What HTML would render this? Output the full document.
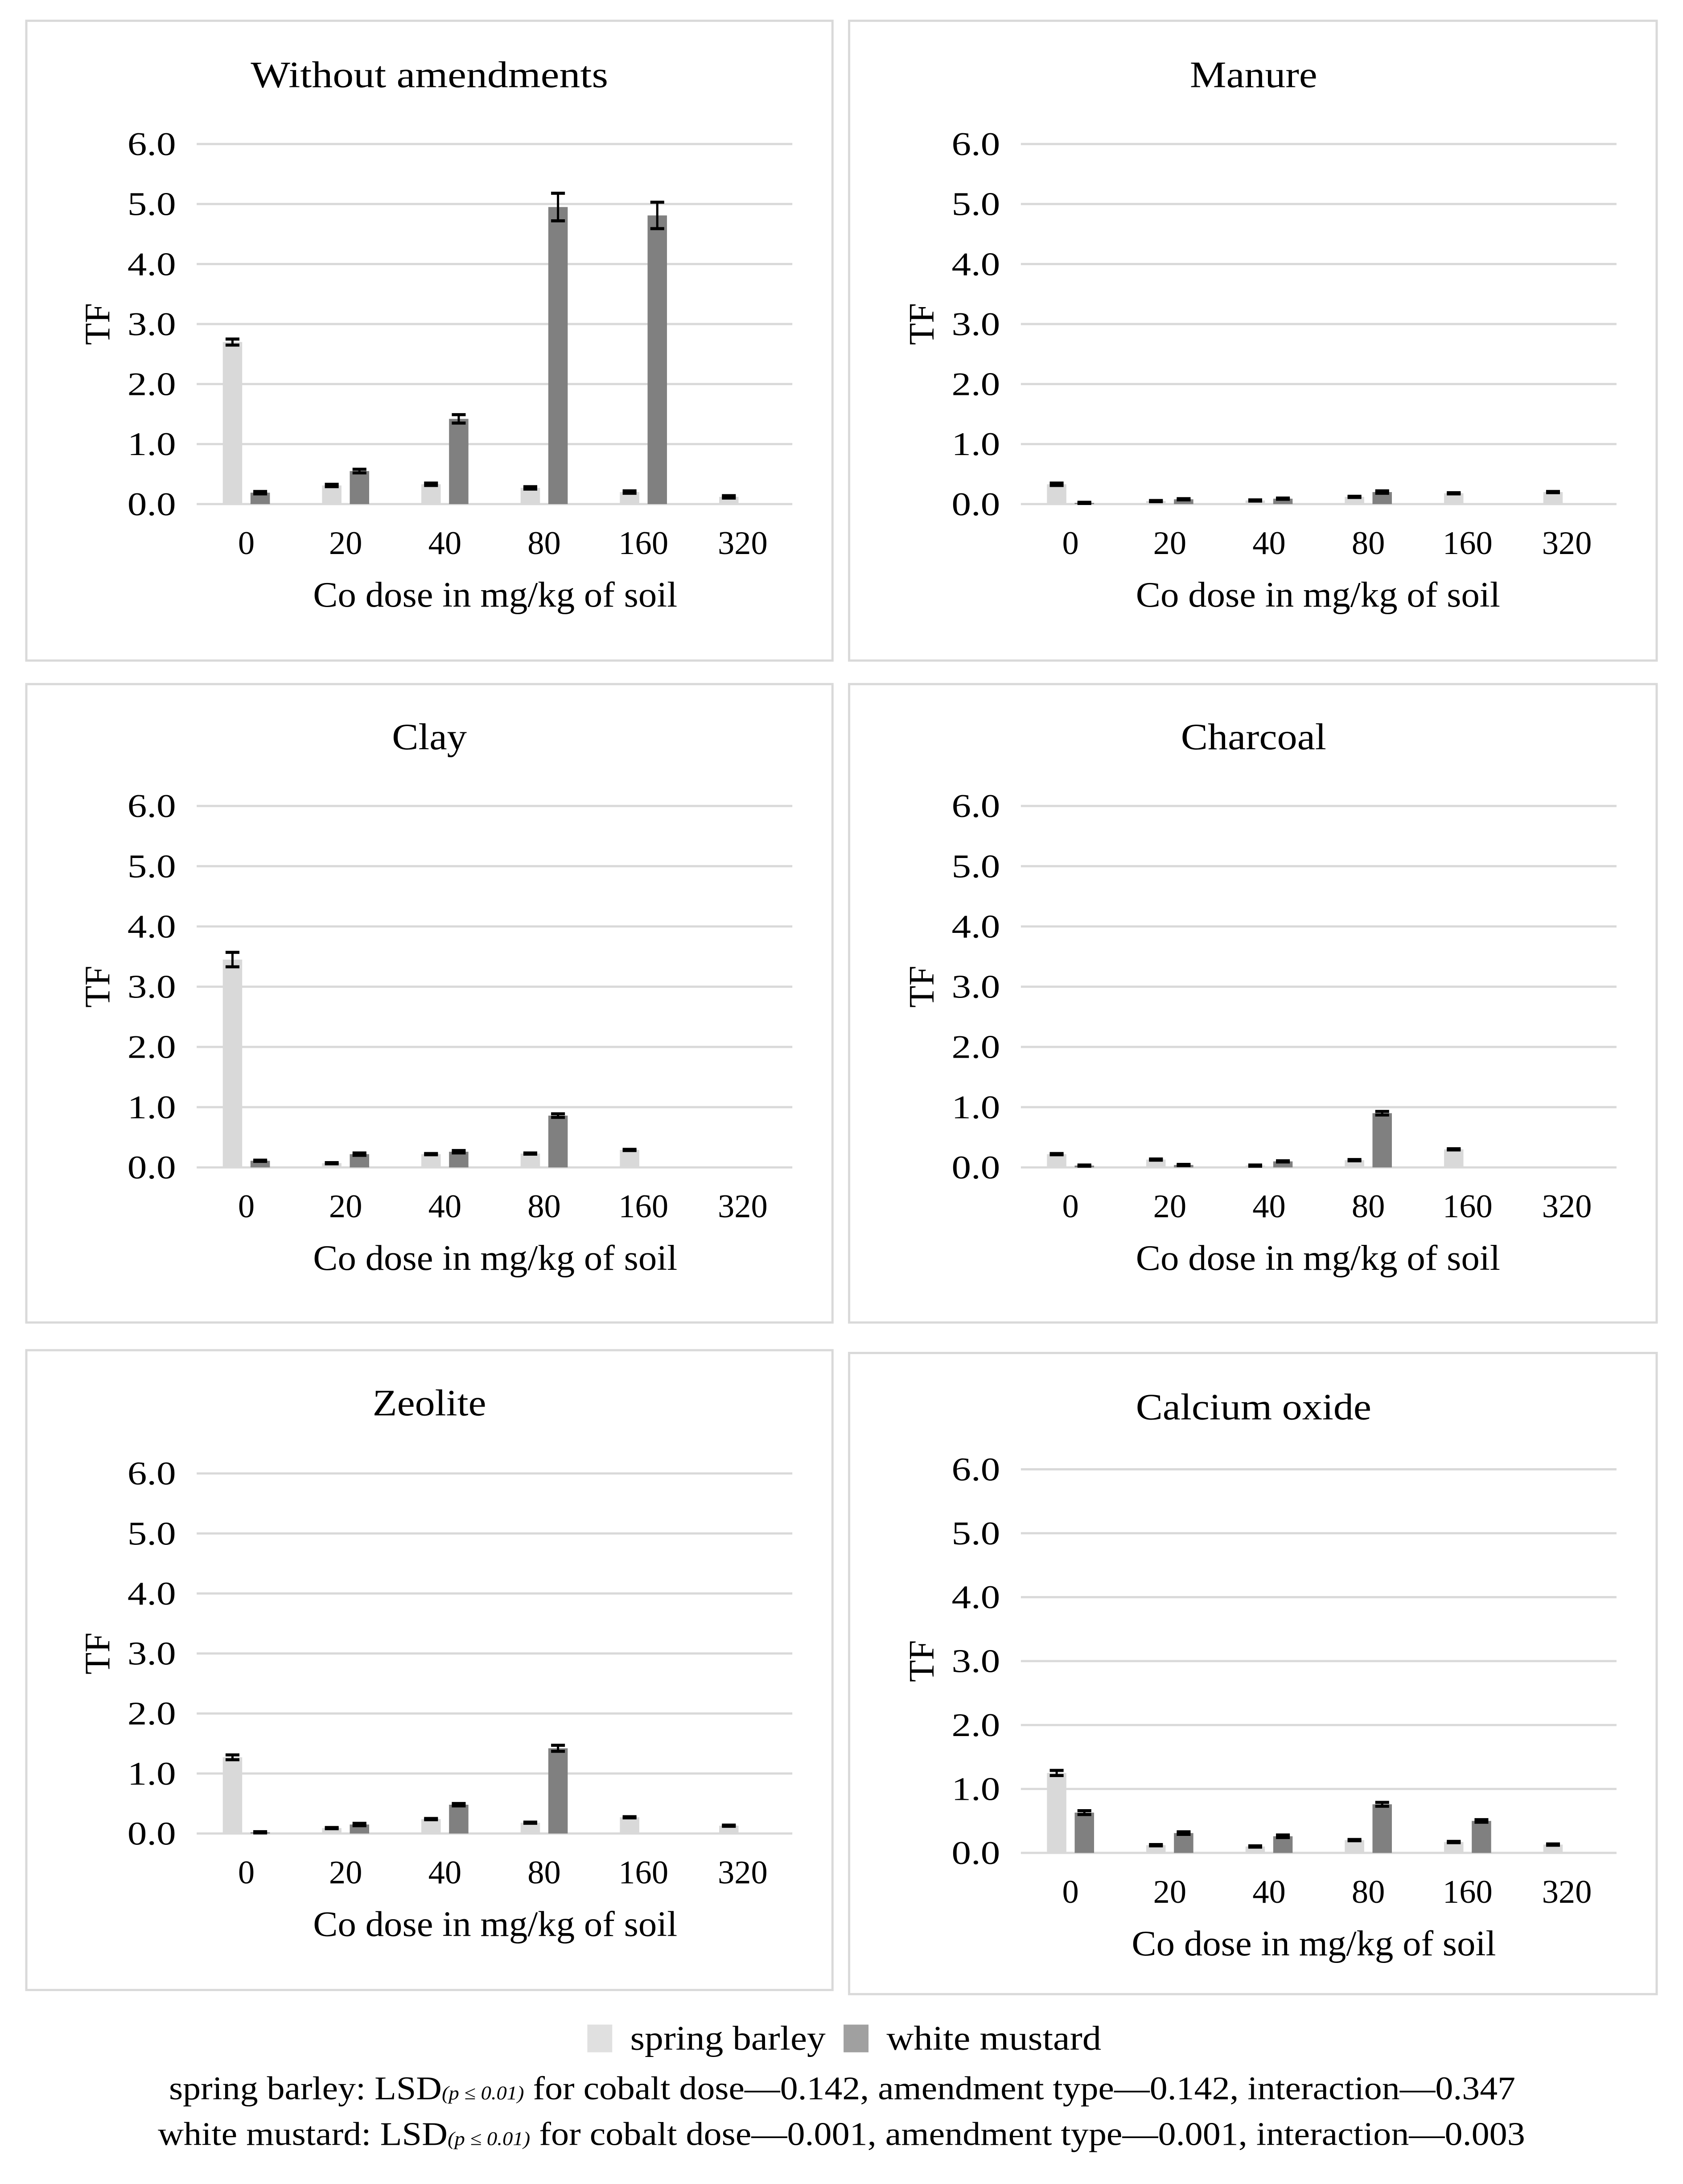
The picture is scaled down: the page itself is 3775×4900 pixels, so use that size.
<!DOCTYPE html>
<html><head><meta charset="utf-8"><style>
html,body{margin:0;padding:0;background:#fff;}
svg{display:block;}
text{font-family:"Liberation Serif",serif;fill:#000;}
</style></head><body>
<svg id="c" width="3775" height="4900" viewBox="0 0 1215 1577.1" xmlns="http://www.w3.org/2000/svg">
<g id="panels"></g>
<g>
<rect x="424" y="1462" width="18" height="20" fill="#e0e0e0"/>
<text x="455" y="1480" font-size="25" textLength="141" lengthAdjust="spacingAndGlyphs">spring barley</text>
<rect x="609" y="1462" width="18" height="20" fill="#a0a0a0"/>
<text x="640" y="1480" font-size="25" textLength="155" lengthAdjust="spacingAndGlyphs">white mustard</text>
</g>
<text x="122" y="1516" font-size="24" textLength="972" lengthAdjust="spacingAndGlyphs">spring barley: LSD<tspan font-size="14" font-style="italic">(p ≤ 0.01)</tspan> for cobalt dose—0.142, amendment type—0.142, interaction—0.347</text>
<text x="114" y="1549" font-size="24" textLength="987" lengthAdjust="spacingAndGlyphs">white mustard: LSD<tspan font-size="14" font-style="italic">(p ≤ 0.01)</tspan> for cobalt dose—0.001, amendment type—0.001, interaction—0.003</text>
</svg>
<script>
const categories = ["0","20","40","80","160","320"];
const yTicks = [0,1,2,3,4,5,6];
const panelTitles = ["Without amendments","Manure","Clay","Charcoal","Zeolite","Calcium oxide"];
const barleyValues = [
 [2.70,0.31,0.33,0.27,0.20,0.12],
 [0.33,0.05,0.06,0.12,0.18,0.20],
 [3.45,0.07,0.22,0.23,0.29,0],
 [0.22,0.13,0.03,0.12,0.30,0],
 [1.27,0.09,0.24,0.18,0.27,0.13],
 [1.25,0.12,0.10,0.20,0.17,0.13]
];
const mustardValues = [
 [0.19,0.55,1.42,4.95,4.81,0],
 [0.02,0.08,0.09,0.20,0,0],
 [0.11,0.22,0.26,0.86,0,0],
 [0.03,0.04,0.10,0.90,0,0],
 [0.02,0.15,0.48,1.42,0,0],
 [0.63,0.31,0.26,0.76,0.50,0]
];
const barleyErrors = [
 [0.05,0.02,0.02,0.02,0.02,0.02],
 [0.02,0.01,0.01,0.01,0.01,0.01],
 [0.12,0.01,0.01,0.01,0.01,0],
 [0.01,0.01,0.01,0.01,0.01,0],
 [0.04,0.01,0.01,0.01,0.01,0.01],
 [0.04,0.01,0.01,0.01,0.01,0.01]
];
const mustardErrors = [
 [0.02,0.03,0.07,0.23,0.22,0],
 [0.01,0.01,0.01,0.02,0,0],
 [0.01,0.02,0.02,0.03,0,0],
 [0.01,0.01,0.01,0.03,0,0],
 [0.01,0.02,0.02,0.05,0,0],
 [0.03,0.02,0.02,0.03,0.02,0]
];
const titleWidths = [258,92,54,105,82,170];
const NS="http://www.w3.org/2000/svg";
const root=document.getElementById('panels');
function mk(tag,attrs,parent){const e=document.createElementNS(NS,tag);for(const k in attrs)e.setAttribute(k,attrs[k]);parent.appendChild(e);return e;}
const layouts=[
 {bx:19,by:15,bw:582,bh:462,px:142,pw:430,top:104,bot:364,title:55,tick:392,xt:430,tc:310,xc:357},
 {bx:613,by:15,bw:583,bh:462,px:737,pw:430,top:104,bot:364,title:55,tick:392,xt:430,tc:905,xc:951},
 {bx:19,by:494,bw:582,bh:461,px:142,pw:430,top:582,bot:843,title:533,tick:871,xt:909,tc:310,xc:357},
 {bx:613,by:494,bw:583,bh:461,px:737,pw:430,top:582,bot:843,title:533,tick:871,xt:909,tc:905,xc:951},
 {bx:19,by:975,bw:582,bh:462,px:142,pw:430,top:1064,bot:1324,title:1014,tick:1352,xt:1390,tc:310,xc:357},
 {bx:613,by:977,bw:583,bh:463,px:737,pw:430,top:1061,bot:1338,title:1017,tick:1366,xt:1404,tc:905,xc:948}
];
layouts.forEach((L,p)=>{
 const g=mk('g',{},root);
 
 
 const box=mk('rect',{x:L.bx,y:L.by,width:L.bw,height:L.bh,fill:'#fff',stroke:'#d9d9d9','stroke-width':1.6},g);
 
 
 const yS=v=>L.bot-(v/6)*(L.bot-L.top);
 const step=L.pw/categories.length;
 const xC=i=>L.px+step*(i+0.5);
 yTicks.forEach(t=>{
  const ln=mk('line',{x1:L.px,x2:L.px+L.pw,y1:yS(t),y2:yS(t),stroke:'#d9d9d9','stroke-width':1.6},g);
  
  
  const tx=mk('text',{x:L.px-15,y:yS(t)+8,'font-size':24,'text-anchor':'end',textLength:35,lengthAdjust:'spacingAndGlyphs'},g);
  tx.textContent=t.toFixed(1);
  
  
 });
 const bw=14;
 const drawBar=(v,e,cx,fill,nm)=>{
  const r=mk('rect',{x:cx-bw/2,y:yS(v),width:bw,height:Math.max(0,yS(0)-yS(v)),fill:fill},g);
  
  
  if(v>0){
   const eg=mk('g',{stroke:'#000','stroke-width':1.6},g);
   
   
   const y1=yS(v+e),y2=yS(v-e);
   mk('line',{x1:cx,x2:cx,y1:y1,y2:y2},eg);
   mk('line',{x1:cx-5,x2:cx+5,y1:y1,y2:y1,'stroke-width':2.2},eg);
   mk('line',{x1:cx-5,x2:cx+5,y1:y2,y2:y2,'stroke-width':2.2},eg);
  }
 };
 categories.forEach((c,i)=>{
  drawBar(barleyValues[p][i],barleyErrors[p][i],xC(i)-10,'#d9d9d9','bar-spring-barley-'+c);
  drawBar(mustardValues[p][i],mustardErrors[p][i],xC(i)+10,'#808080','bar-white-mustard-'+c);
  const tx=mk('text',{x:xC(i),y:L.tick+8,'font-size':24,'text-anchor':'middle'},g);
  tx.textContent=c;
  
  
 });
 const t=mk('text',{x:L.tc-titleWidths[p]/2,y:L.title+8,'font-size':27,textLength:titleWidths[p],lengthAdjust:'spacingAndGlyphs'},g);
 t.textContent=panelTitles[p];
 
 
 const xt=mk('text',{x:L.xc-131,y:L.xt+8,'font-size':26,textLength:263,lengthAdjust:'spacingAndGlyphs'},g);
 xt.textContent='Co dose in mg/kg of soil';
 
 
 const ymid=(L.top+L.bot)/2;
 const yt=mk('text',{x:0,y:0,'font-size':26,'text-anchor':'middle',transform:`translate(${L.px-63},${ymid}) rotate(-90)`},g);
 yt.textContent='TF';
 
 
});
</script>
</body></html>
